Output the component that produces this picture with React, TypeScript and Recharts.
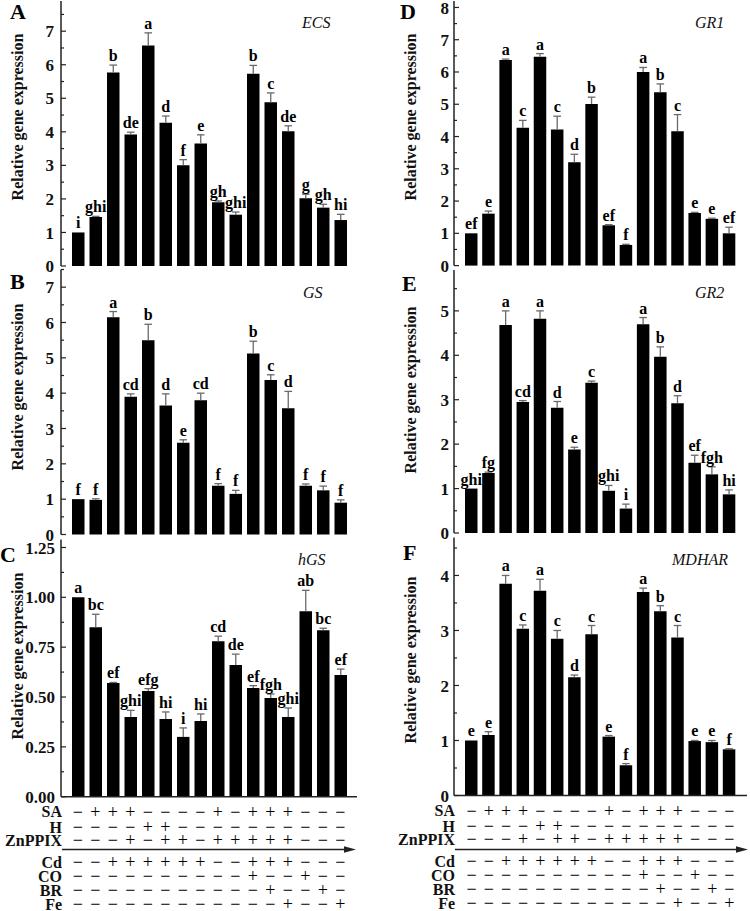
import React from 'react';
import { BarChart, Bar, XAxis, YAxis, LabelList } from 'recharts';

const treatments = ['T1', 'T2', 'T3', 'T4', 'T5', 'T6', 'T7', 'T8', 'T9', 'T10', 'T11', 'T12', 'T13', 'T14', 'T15', 'T16'];

const ecsValues = [1.0, 1.46, 5.77, 3.92, 6.57, 4.27, 3.0, 3.65, 1.9, 1.53, 5.73, 4.88, 4.02, 2.02, 1.74, 1.37];
const ecsErrors = [0, 0.02, 0.22, 0.07, 0.38, 0.2, 0.17, 0.26, 0.04, 0.08, 0.25, 0.28, 0.16, 0.12, 0.1, 0.17];
const ecsLetters = ['i', 'ghi', 'b', 'de', 'a', 'd', 'f', 'e', 'gh', 'ghi', 'b', 'c', 'de', 'g', 'gh', 'hi'];

const gsValues = [1.0, 0.98, 6.15, 3.9, 5.5, 3.65, 2.6, 3.8, 1.38, 1.15, 5.12, 4.37, 3.57, 1.38, 1.25, 0.9];
const gsErrors = [0, 0.03, 0.16, 0.08, 0.45, 0.33, 0.08, 0.2, 0.06, 0.1, 0.35, 0.15, 0.48, 0.05, 0.12, 0.08];
const gsLetters = ['f', 'f', 'a', 'cd', 'b', 'd', 'e', 'cd', 'f', 'f', 'b', 'c', 'd', 'f', 'f', 'f'];

const hgsValues = [1.0, 0.85, 0.57, 0.4, 0.53, 0.39, 0.3, 0.38, 0.78, 0.66, 0.545, 0.495, 0.4, 0.93, 0.835, 0.61];
const hgsErrors = [0, 0.065, 0.003, 0.033, 0.012, 0.035, 0.045, 0.035, 0.025, 0.055, 0.012, 0.02, 0.045, 0.105, 0.01, 0.03];
const hgsLetters = ['a', 'bc', 'ef', 'ghi', 'efg', 'hi', 'i', 'hi', 'cd', 'de', 'ef', 'fgh', 'ghi', 'ab', 'bc', 'ef'];

const gr1Values = [1.0, 1.61, 6.37, 4.27, 6.47, 4.22, 3.2, 5.01, 1.25, 0.64, 6.0, 5.37, 4.16, 1.63, 1.45, 1.0];
const gr1Errors = [0, 0.08, 0.03, 0.23, 0.1, 0.41, 0.25, 0.21, 0.02, 0.02, 0.14, 0.26, 0.52, 0.02, 0.02, 0.19];
const gr1Letters = ['ef', 'e', 'a', 'c', 'a', 'c', 'd', 'b', 'ef', 'f', 'a', 'b', 'c', 'e', 'e', 'ef'];

const gr2Values = [1.0, 1.35, 4.68, 2.95, 4.82, 2.82, 1.88, 3.38, 0.95, 0.55, 4.7, 3.97, 2.92, 1.58, 1.32, 0.87];
const gr2Errors = [0, 0.02, 0.32, 0.03, 0.18, 0.14, 0.05, 0.04, 0.12, 0.1, 0.15, 0.22, 0.17, 0.17, 0.17, 0.1];
const gr2Letters = ['ghi', 'fg', 'a', 'cd', 'a', 'd', 'e', 'c', 'ghi', 'i', 'a', 'b', 'd', 'ef', 'fgh', 'hi'];

const mdharValues = [1.0, 1.1, 3.85, 3.03, 3.72, 2.85, 2.15, 2.93, 1.07, 0.55, 3.7, 3.35, 2.87, 0.99, 0.97, 0.84];
const mdharErrors = [0, 0.06, 0.15, 0.07, 0.21, 0.15, 0.04, 0.16, 0.02, 0.03, 0.07, 0.1, 0.22, 0.01, 0.03, 0.01];
const mdharLetters = ['e', 'e', 'a', 'c', 'a', 'c', 'd', 'c', 'e', 'f', 'a', 'b', 'c', 'e', 'e', 'f'];

const rowNames = ['SA', 'H', 'ZnPPIX', 'Cd', 'CO', 'BR', 'Fe'];
const saRow = ['−', '+', '+', '+', '−', '−', '−', '−', '+', '−', '+', '+', '+', '−', '−', '−'];
const hRow = ['−', '−', '−', '−', '+', '+', '−', '−', '−', '−', '−', '−', '−', '−', '−', '−'];
const znRow = ['−', '−', '−', '+', '−', '+', '+', '−', '+', '+', '+', '+', '+', '−', '−', '−'];
const cdRow = ['−', '−', '+', '+', '+', '+', '+', '+', '−', '−', '+', '+', '+', '−', '−', '−'];
const coRow = ['−', '−', '−', '−', '−', '−', '−', '−', '−', '−', '+', '−', '−', '+', '−', '−'];
const brRow = ['−', '−', '−', '−', '−', '−', '−', '−', '−', '−', '−', '+', '−', '−', '+', '−'];
const feRow = ['−', '−', '−', '−', '−', '−', '−', '−', '−', '−', '−', '−', '+', '−', '−', '+'];
const signRows = [saRow, hRow, znRow, cdRow, coRow, brRow, feRow];
const rowOffsets = [15, 30.5, 43.5, 65.5, 79.5, 93.5, 107.5];

const SERIF = '"Liberation Serif", "Times New Roman", "DejaVu Serif", serif';
const AXIS = '#222';

const buildData = (vals: number[], errs: number[], letters: string[]) =>
  treatments.map((name, i) => ({ name, idx: i, value: vals[i], err: errs[i], letter: letters[i] }));

const makeTicks = (max: number, step: number) => {
  const out: number[] = [];
  for (let k = 0; k * step <= max + 1e-9; k++) out.push(Number((k * step).toFixed(4)));
  return out;
};

const ErrShape = (props: any) => {
  const { x, y, width, height } = props;
  if (!height || height <= 0.5) return <g />;
  const cx = x + width / 2;
  return (
    <g stroke="#6a6a6a" strokeWidth={1.3}>
      <line x1={cx} x2={cx} y1={y} y2={y + height} />
      <line x1={cx - 3.8} x2={cx + 3.8} y1={y} y2={y} />
    </g>
  );
};

const LetterLabel = (props: any) => {
  const { x, y, width, value } = props;
  return (
    <text x={x + width / 2} y={y - 4} textAnchor="middle" fontFamily={SERIF} fontWeight="bold" fontSize={16} fill="#000">
      {value}
    </text>
  );
};

const makeYTick = (majorStep: number, decimals: number, gap: number) => (props: any) => {
  const { x, y, payload } = props;
  const v = payload.value;
  const r = v / majorStep;
  const isMajor = Math.abs(r - Math.round(r)) < 1e-6;
  return (
    <g>
      <line x1={x} x2={x + (isMajor ? 5 : 3)} y1={y} y2={y} stroke={AXIS} strokeWidth={1.2} />
      {isMajor && (
        <text x={x - gap} y={y} dy="0.36em" textAnchor="end" fontFamily={SERIF} fontWeight="bold" fontSize={17} fill="#111">
          {v.toFixed(decimals)}
        </text>
      )}
    </g>
  );
};

const SignTick = (props: any) => {
  const { x, y, payload } = props;
  let idx = props.index;
  if (idx === undefined || idx === null) idx = payload && payload.index;
  if ((idx === undefined || idx === null) && payload) idx = treatments.indexOf(payload.value);
  return (
    <g>
      {signRows.map((row, r) => (
        <text key={r} x={x} y={y + rowOffsets[r]} dy="0.34em" textAnchor="middle" fontFamily={SERIF} fontSize={18} fill="#000">
          {row[idx]}
        </text>
      ))}
    </g>
  );
};

type PanelProps = {
  data: any[];
  left: number;
  top: number;
  height: number;
  yWidth: number;
  margin: { top: number; right: number; bottom: number; left: number };
  xHeight: number;
  domainMax: number;
  tickStep: number;
  majorStep: number;
  decimals: number;
  gap: number;
  pad: number;
  table?: boolean;
};

const Panel = (p: PanelProps) => {
  const axisLine = { stroke: AXIS, strokeWidth: 1.5 };
  return (
    <div style={{ position: 'absolute', left: p.left, top: p.top, width: 375, height: p.height }}>
      <BarChart width={375} height={p.height} data={p.data} margin={p.margin} barSize={12.5}>
        <XAxis
          dataKey="name"
          interval={0}
          height={p.xHeight}
          axisLine={axisLine}
          tickLine={false}
          tickSize={0}
          tickMargin={0}
          padding={{ left: p.pad, right: p.pad }}
          tick={p.table ? (tp: any) => <SignTick {...tp} /> : false}
        />
        <XAxis xAxisId="top" orientation="top" dataKey="name" height={0} axisLine={axisLine} tickLine={false} tick={false} padding={{ left: p.pad, right: p.pad }} />
        <YAxis
          width={p.yWidth}
          domain={[0, p.domainMax]}
          ticks={makeTicks(p.domainMax, p.tickStep)}
          interval={0}
          axisLine={axisLine}
          tickLine={false}
          tickSize={0}
          tickMargin={0}
          tick={makeYTick(p.majorStep, p.decimals, p.gap)}
        />
        <YAxis yAxisId="right" orientation="right" width={0} axisLine={axisLine} tickLine={false} tick={false} />
        <Bar dataKey="value" stackId="s" fill="#000" isAnimationActive={false} />
        <Bar dataKey="err" stackId="s" fill="none" shape={ErrShape} isAnimationActive={false}>
          <LabelList dataKey="letter" content={LetterLabel} />
        </Bar>
      </BarChart>
    </div>
  );
};

const ecsData = buildData(ecsValues, ecsErrors, ecsLetters);
const gsData = buildData(gsValues, gsErrors, gsLetters);
const hgsData = buildData(hgsValues, hgsErrors, hgsLetters);
const gr1Data = buildData(gr1Values, gr1Errors, gr1Letters);
const gr2Data = buildData(gr2Values, gr2Errors, gr2Letters);
const mdharData = buildData(mdharValues, mdharErrors, mdharLetters);

const panelLetters = [
  { t: 'A', x: 10, y: 19 },
  { t: 'B', x: 10, y: 289 },
  { t: 'C', x: 0, y: 562 },
  { t: 'D', x: 400, y: 19 },
  { t: 'E', x: 402, y: 291 },
  { t: 'F', x: 403, y: 560 },
];
const geneNames = [
  { t: 'ECS', x: 302, y: 28 },
  { t: 'GS', x: 303, y: 298 },
  { t: 'hGS', x: 298, y: 565 },
  { t: 'GR1', x: 695, y: 28 },
  { t: 'GR2', x: 695, y: 298 },
  { t: 'MDHAR', x: 672, y: 565 },
];
const yTitles = [
  { x: 17, y: 117 },
  { x: 17, y: 387 },
  { x: 17, y: 656 },
  { x: 410, y: 117 },
  { x: 410, y: 390 },
  { x: 410, y: 660 },
];

const Overlay = () => (
  <svg width={750} height={911} style={{ position: 'absolute', left: 0, top: 0, pointerEvents: 'none' }}>
    {panelLetters.map((l) => (
      <text key={l.t} x={l.x} y={l.y} fontFamily={SERIF} fontWeight="bold" fontSize={22} fill="#000">{l.t}</text>
    ))}
    {geneNames.map((g) => (
      <text key={g.t} x={g.x} y={g.y} fontFamily={SERIF} fontStyle="italic" fontSize={16} fill="#111">{g.t}</text>
    ))}
    {yTitles.map((t, i) => (
      <text key={i} x={t.x} y={t.y} transform={`rotate(-90 ${t.x} ${t.y})`} textAnchor="middle" dy="0.36em" fontFamily={SERIF} fontWeight="bold" fontSize={16} fill="#111">
        Relative gene expression
      </text>
    ))}
    {rowNames.map((n, r) => (
      <React.Fragment key={n}>
        <text x={62} y={796.7 + rowOffsets[r]} dy="0.36em" textAnchor="end" fontFamily={SERIF} fontWeight="bold" fontSize={16} fill="#111">{n}</text>
        <text x={455} y={795.5 + rowOffsets[r]} dy="0.36em" textAnchor="end" fontFamily={SERIF} fontWeight="bold" fontSize={16} fill="#111">{n}</text>
      </React.Fragment>
    ))}
    <line x1={62} x2={348} y1={849.5} y2={849.5} stroke="#222" strokeWidth={1.5} />
    <polygon points="344,846.3 356,849.5 344,852.7" fill="#222" />
    <line x1={455} x2={740} y1={849.5} y2={849.5} stroke="#222" strokeWidth={1.5} />
    <polygon points="736,846.3 748,849.5 736,852.7" fill="#222" />
  </svg>
);

export default function App() {
  return (
    <div style={{ position: 'absolute', left: 0, top: 0, width: 750, height: 911, background: '#fff', overflow: 'hidden' }}>
      <Panel data={ecsData} left={0} top={0} height={275} yWidth={61} xHeight={0} margin={{ top: 1, right: 18, bottom: 9, left: 0 }} domainMax={7.9} tickStep={0.5} majorStep={1} decimals={0} gap={7} pad={8} />
      <Panel data={gsData} left={0} top={262} height={280} yWidth={61} xHeight={0} margin={{ top: 7.5, right: 18, bottom: 7.5, left: 0 }} domainMax={7.5} tickStep={0.5} majorStep={1} decimals={0} gap={7} pad={8} />
      <Panel data={hgsData} left={0} top={532} height={379} yWidth={61} xHeight={114.3} margin={{ top: 7.5, right: 18, bottom: 0, left: 0 }} domainMax={1.29} tickStep={0.125} majorStep={0.25} decimals={2} gap={6} pad={8} table />
      <Panel data={gr1Data} left={375} top={0} height={275} yWidth={79} xHeight={0} margin={{ top: 1, right: 3, bottom: 9.4, left: 0 }} domainMax={8.2} tickStep={0.5} majorStep={1} decimals={0} gap={5} pad={9} />
      <Panel data={gr2Data} left={375} top={262} height={280} yWidth={79} xHeight={0} margin={{ top: 8, right: 3, bottom: 9, left: 0 }} domainMax={5.92} tickStep={0.5} majorStep={1} decimals={0} gap={5} pad={9} />
      <Panel data={mdharData} left={375} top={532} height={379} yWidth={79} xHeight={115.5} margin={{ top: 5.5, right: 3, bottom: 0, left: 0 }} domainMax={4.69} tickStep={0.5} majorStep={1} decimals={0} gap={5} pad={9} table />
      <Overlay />
    </div>
  );
}
